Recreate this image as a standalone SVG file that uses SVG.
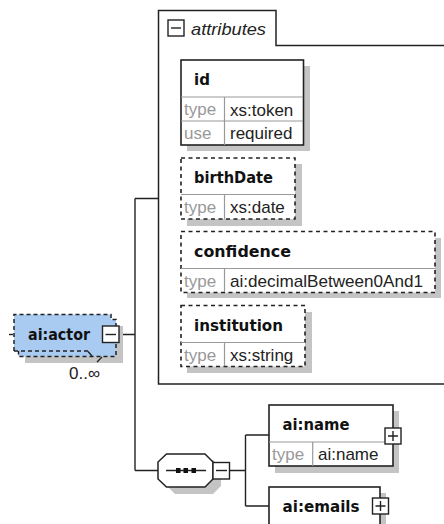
<svg xmlns="http://www.w3.org/2000/svg" width="444" height="524" viewBox="0 0 444 524">
<style>
.sh{fill:#c4c4c4}
.box{fill:#fff;stroke:#222;stroke-width:1.6}
.dash{fill:#fff;stroke:#222;stroke-width:1.6;stroke-dasharray:4 3.5}
.sep{stroke:#999;stroke-width:1.2;fill:none}
.con{stroke:#222;stroke-width:1.4;fill:none}
.tg{fill:#fff;stroke:#222;stroke-width:1.4}
.n{font:bold 15px "DejaVu Sans",sans-serif;fill:#111}
.k{font:17px "Liberation Sans",sans-serif;fill:#999}
.v{font:17px "Liberation Sans",sans-serif;fill:#222}
.ad{stroke:#222;stroke-width:1.5;stroke-dasharray:4 3;fill:none}
</style>
<g id="connectors">
<path class="con" d="M119 334.500H135M135 198.500V470.500M135 198.500H159M135 470.500H158M229 470.500H246M245.500 435V506M245.500 435H269M245.500 506H269"/>
<path class="con" stroke-dasharray="4 3" d="M9 334.500H14"/>
</g>
<g id="attributes">
<path d="M450 384H158.500V10.500H276V45.500H450" fill="#fff" stroke="#222" stroke-width="1.5"/>
<rect class="tg" x="168" y="20" width="16" height="16"/>
<path class="con" d="M171 28H181"/>
<text x="191" y="35" font-family="Liberation Sans,sans-serif" font-size="17" font-style="italic" fill="#222" textLength="75" lengthAdjust="spacingAndGlyphs">attributes</text>
</g>
<g id="id">
<rect class="sh" x="187" y="66" width="123" height="85"/>
<rect class="box" x="181" y="60" width="122.500" height="85"/>
<path class="sep" d="M181 97H303M181 121H303M224.500 97V145"/>
<text class="n" x="194" y="85">id</text>
<text class="k" x="184" y="115">type</text><text class="v" x="230" y="115.500">xs:token</text>
<text class="k" x="184" y="139">use</text><text class="v" x="230" y="139">required</text>
</g>
<g id="birthDate">
<rect class="sh" x="187" y="164" width="115" height="62"/>
<rect class="dash" x="181" y="158" width="114" height="61"/>
<path class="sep" d="M181 194.500H295M224.500 194.500V219"/>
<text class="n" x="194" y="182.500" textLength="79" lengthAdjust="spacingAndGlyphs">birthDate</text>
<text class="k" x="184" y="213">type</text><text class="v" x="230" y="213">xs:date</text>
</g>
<g id="confidence">
<rect class="sh" x="187" y="238" width="254" height="60"/>
<rect class="dash" x="181" y="231.500" width="254" height="61"/>
<path class="sep" d="M181 268.500H435M224.500 268.500V292"/>
<text class="n" x="194" y="256.500" textLength="97" lengthAdjust="spacingAndGlyphs">confidence</text>
<text class="k" x="184" y="287">type</text><text class="v" x="230" y="287" textLength="193" lengthAdjust="spacingAndGlyphs">ai:decimalBetween0And1</text>
</g>
<g id="institution">
<rect class="sh" x="187" y="312" width="125" height="61"/>
<rect class="dash" x="181" y="305.500" width="124" height="61"/>
<path class="sep" d="M181 342.500H305M224.500 342.500V366"/>
<text class="n" x="194" y="330.500" textLength="89" lengthAdjust="spacingAndGlyphs">institution</text>
<text class="k" x="184" y="361">type</text><text class="v" x="230" y="361">xs:string</text>
</g>
<g id="actor">
<rect class="sh" x="25" y="326" width="98" height="37"/>
<path d="M14 314.500H111V319.500H116V356.500H18.500V351H14Z" fill="#a9cbf2"/>
<path class="ad" d="M14 351V314.500H111V319.500H116V356.500H18.500V351M14 351H88"/>
<path class="con" d="M88 351.500L92 356M102 357L97 362"/>
<text class="n" x="28" y="340" textLength="62" lengthAdjust="spacingAndGlyphs">ai:actor</text>
<rect class="tg" x="102.500" y="326" width="16.500" height="16.500"/>
<path class="con" d="M105.500 334.500H116"/>
<text font-family="Liberation Sans,sans-serif" font-size="17" fill="#222" x="69" y="379">0..∞</text>
</g>
<g id="sequence">
<path class="sh" d="M167 460H213L221 468V486L213 494H175L167 486Z"/>
<path d="M166.500 454H205L213 462V479L205 487H166.500L158 479V462Z" fill="#fff" stroke="#222" stroke-width="1.5"/>
<path class="con" d="M166 470.500H206"/>
<path d="M176 468h4.500v5h-4.500zM183.500 468h4.500v5h-4.500zM191.500 468h4.500v5h-4.500z" fill="#111"/>
<rect class="tg" x="213" y="462.500" width="16.500" height="16.500"/>
<path class="con" d="M216 470.500H227"/>
</g>
<g id="name">
<rect class="sh" x="275" y="411" width="124" height="62"/>
<rect class="box" x="269" y="405" width="124" height="61"/>
<path class="sep" d="M269 442H393M312.700 442V466"/>
<text class="n" x="282.500" y="430" textLength="67" lengthAdjust="spacingAndGlyphs">ai:name</text>
<text class="k" x="272" y="460">type</text><text class="v" x="318" y="460">ai:name</text>
<rect class="tg" x="385" y="428" width="16" height="16"/>
<path class="con" d="M388 436H398M393 431V441"/>
</g>
<g id="emails">
<rect class="sh" x="275" y="493" width="111" height="36"/>
<rect class="box" x="269" y="487" width="111" height="42"/>
<text class="n" x="282.500" y="511.500" textLength="77" lengthAdjust="spacingAndGlyphs">ai:emails</text>
<rect class="tg" x="372.500" y="498" width="16" height="16"/>
<path class="con" d="M375.500 506H385.500M380.500 501V511"/>
</g>
</svg>
